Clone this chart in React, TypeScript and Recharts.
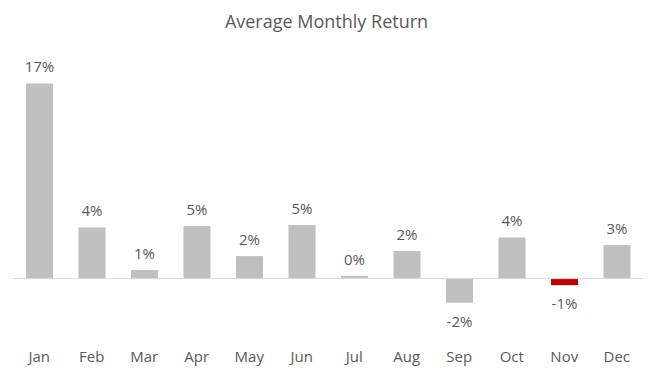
import React from "react";
import { BarChart, Bar, XAxis, YAxis, Cell, LabelList, ReferenceLine } from "recharts";

const months = ["Jan", "Feb", "Mar", "Apr", "May", "Jun", "Jul", "Aug", "Sep", "Oct", "Nov", "Dec"];
const returns = [17.0, 4.46, 0.74, 4.58, 1.96, 4.66, 0.24, 2.4, -2.1, 3.59, -0.57, 2.92];
const highlightMonth = "Nov";
const title = "Average Monthly Return";

const data = months.map((m, i) => ({ month: m, value: returns[i] }));

const TEXT = "#595959";
const FONT = "'Open Sans', sans-serif";

const renderLabel = (props: any) => {
  const { x, y, width, height, value } = props;
  const cx = Number(x) + Number(width) / 2;
  const top = Math.min(Number(y), Number(y) + Number(height));
  const bottom = Math.max(Number(y), Number(y) + Number(height));
  const v = Number(value);
  const r = Math.round(v);
  const txt = (Object.is(r, -0) ? 0 : r) + "%";
  const ty = v >= 0 ? top - 11 : bottom + 24;
  return (
    <text x={cx} y={ty} textAnchor="middle" fill={TEXT} fontSize={15} fontFamily={FONT}>
      {txt}
    </text>
  );
};

export default function App() {
  return (
    <div style={{ position: "absolute", left: 0, top: 0, width: 658, height: 376, background: "#fff" }}>
      <div
        style={{
          position: "absolute",
          left: 0,
          top: 9,
          width: 653,
          textAlign: "center",
          fontFamily: FONT,
          fontSize: 18,
          lineHeight: "24px",
          color: TEXT,
        }}
      >
        {title}
      </div>
      <BarChart
        width={658}
        height={376}
        data={data}
        margin={{ top: 49, right: 15, bottom: 0, left: 13 }}
      >
        <XAxis
          dataKey="month"
          axisLine={false}
          tickLine={false}
          height={40}
          tickMargin={9}
          interval={0}
          tick={{ fill: TEXT, fontSize: 15, fontFamily: FONT }}
        />
        <YAxis hide domain={[-5, 20]} type="number" />
        <ReferenceLine y={0} stroke="#D9D9D9" strokeWidth={1} />
        <Bar dataKey="value" barSize={27} isAnimationActive={false}>
          {data.map((d) => (
            <Cell key={d.month} fill={d.month === highlightMonth ? "#C00000" : "#BFBFBF"} />
          ))}
          <LabelList dataKey="value" content={renderLabel} />
        </Bar>
      </BarChart>
    </div>
  );
}
